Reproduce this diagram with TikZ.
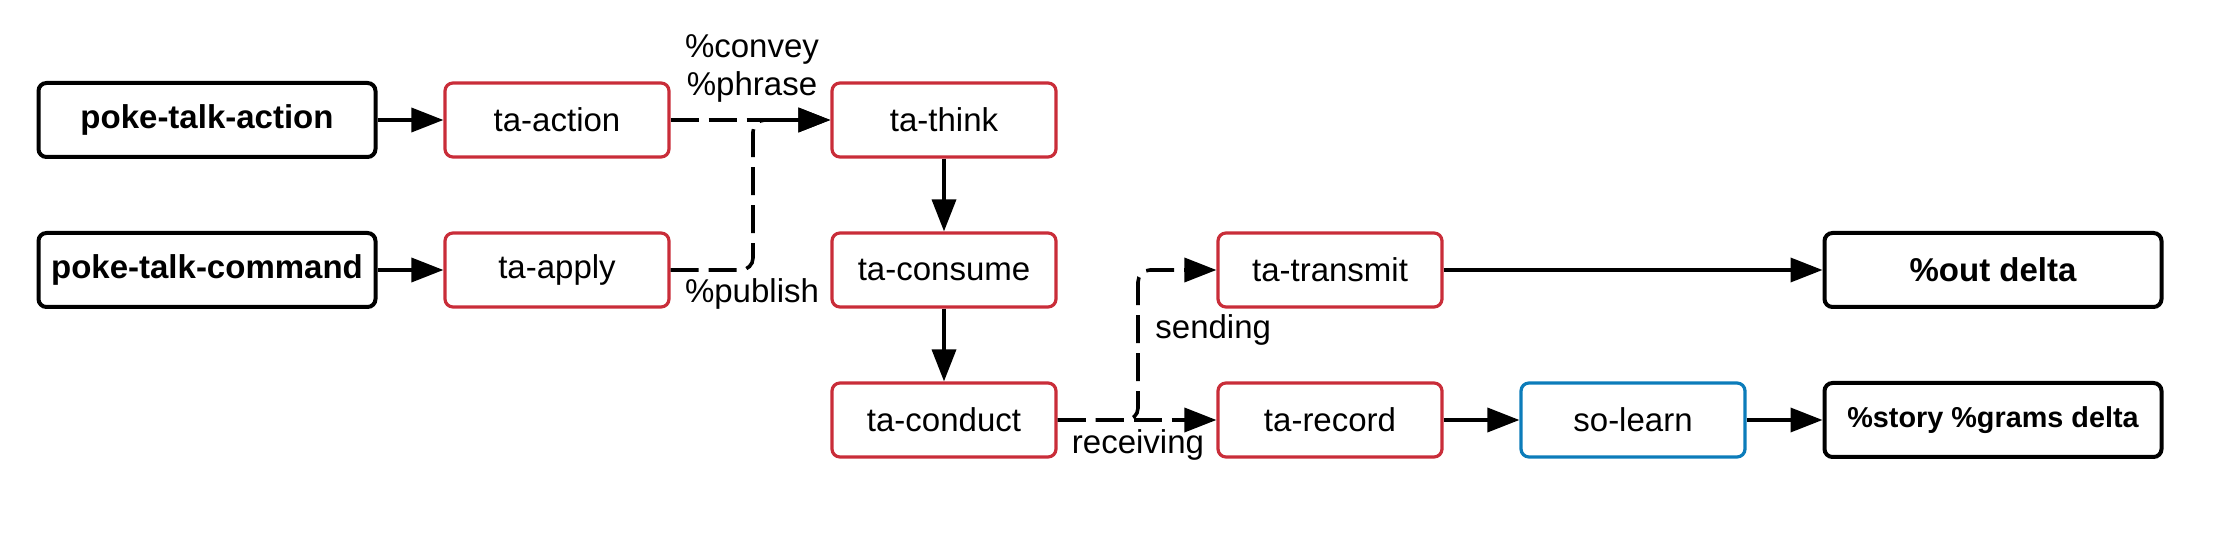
\documentclass[tikz,border=0pt]{standalone}
\usepackage{fontspec}
\setmainfont{Liberation Sans}
\usetikzlibrary{arrows.meta}

\definecolor{tared}{HTML}{C92D39}
\definecolor{soblue}{HTML}{0C7CBA}

\tikzset{
  box/.style={draw, rounded corners=4pt, minimum height=37pt, inner sep=2pt,
    font=\fontsize{16.5}{19}\selectfont},
  outbox/.style={box, line width=2pt, minimum width=168.5pt, font=\fontsize{16.5}{19}\selectfont\bfseries},
  redbox/.style={box, draw=tared, line width=1.6pt, minimum width=112pt},
  bluebox/.style={box, draw=soblue, line width=1.6pt, minimum width=112pt},
  flow/.style={-{Triangle[length=16pt,width=12pt]}, line width=1.8pt},
  dflow/.style={flow, dash pattern=on 14pt off 5pt, rounded corners=6pt},
  lbl/.style={font=\fontsize{16.5}{19}\selectfont, inner sep=1pt}
}

\begin{document}
\begin{tikzpicture}[x=0.5pt,y=-0.5pt]
\useasboundingbox (0,0) rectangle (2237,544);

\node[outbox] (pokeaction) at (207,120) {poke-talk-action};
\node[outbox] (pokecommand) at (207,270) {poke-talk-command};

\node[redbox] (action) at (557,120) {ta-action};
\node[redbox] (apply) at (557,270) {ta-apply};

\node[redbox] (think) at (944,120) {ta-think};
\node[redbox] (consume) at (944,270) {ta-consume};
\node[redbox] (conduct) at (944,420) {ta-conduct};

\node[redbox] (transmit) at (1330,270) {ta-transmit};
\node[redbox] (record) at (1330,420) {ta-record};
\node[bluebox] (learn) at (1633,420) {so-learn};

\node[outbox] (outdelta) at (1993,270) {\%out delta};
\node[outbox, font=\fontsize{14.4}{17}\selectfont\bfseries] (storydelta) at (1993,420) {\%story \%grams delta};

\coordinate (joinA) at (753,120);
\coordinate (joinB) at (1138,270);

\draw[flow] (pokeaction) -- (action);
\draw[flow] (pokecommand) -- (apply);
\draw[dflow] (action) -- (think);
\draw[dflow] (apply.east) -| (joinA) -- (think.west);
\draw[flow] (think) -- (consume);
\draw[flow] (consume) -- (conduct);
\draw[dflow] (conduct) -- (record);
\draw[dflow] (conduct.east) -| (joinB) -- (transmit.west);
\draw[flow] (transmit) -- (outdelta);
\draw[flow] (record) -- (learn);
\draw[flow] (learn) -- (storydelta);

\node[lbl, align=center] (conveylbl) at (752,68) {\%convey\\\%phrase};
\node[lbl] (publishlbl) at (752,294) {\%publish};
\node[lbl] (receivinglbl) at (1138,445) {receiving};
\node[lbl, anchor=west] (sendinglbl) at (1153,330) {sending};
\end{tikzpicture}
\end{document}
